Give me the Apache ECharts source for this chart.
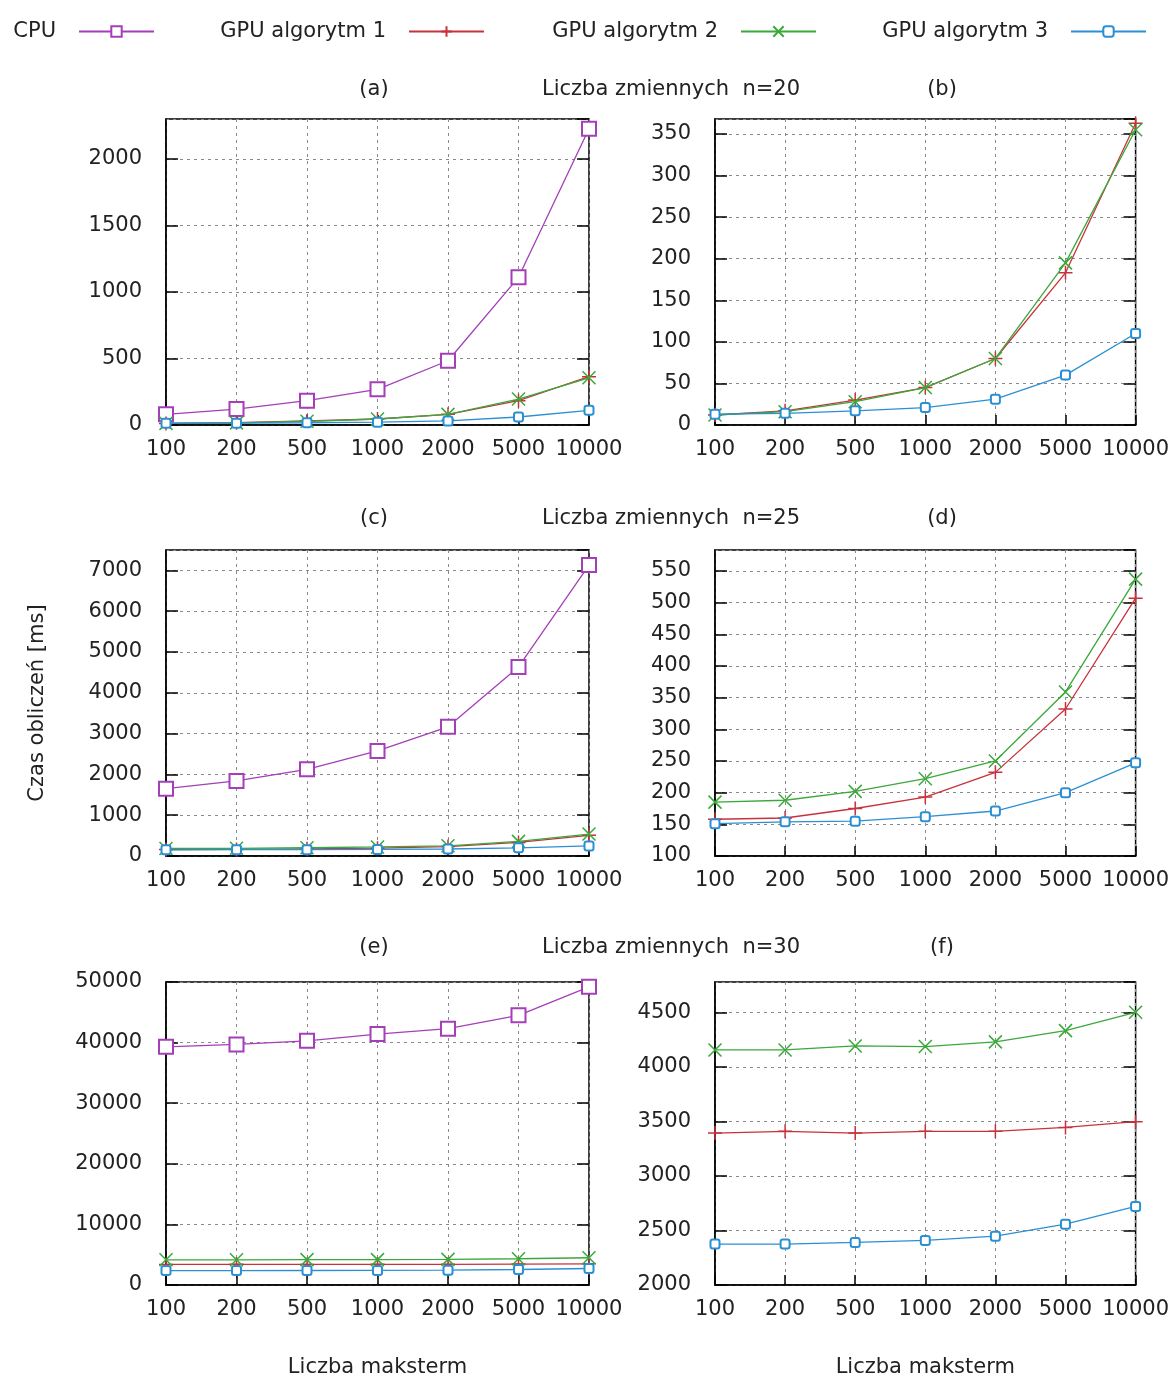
<!DOCTYPE html>
<html>
<head>
<meta charset="utf-8">
<script src="https://cdn.jsdelivr.net/npm/echarts@6/dist/echarts.min.js"></script>
<style>
html,body{margin:0;padding:0;background:#fff;}
#chart{width:1172px;height:1382px;}
</style>
</head>
<body>
<div id="chart"></div>
<script>
// ---- data ----
const categories = ['100', '200', '500', '1000', '2000', '5000', '10000'];
const seriesNames = ['CPU', 'GPU algorytm 1', 'GPU algorytm 2', 'GPU algorytm 3'];

// n = 20
const cpu20  = [80, 120, 183, 268, 483, 1110, 2226];
const gpu1_20 = [12, 17, 30, 45, 80, 183, 363];
const gpu2_20 = [12, 16, 28, 45, 80, 195, 355];
const gpu3_20 = [13, 14, 17, 21, 31, 60, 110];

// n = 25
const cpu25  = [1650, 1840, 2125, 2575, 3165, 4635, 7130];
const gpu1_25 = [158, 160, 175, 193, 232, 332, 507];
const gpu2_25 = [185, 188, 202, 222, 250, 359, 537];
const gpu3_25 = [151, 154, 155, 162, 171, 200, 247];

// n = 30
const cpu30  = [39300, 39700, 40300, 41400, 42300, 44500, 49200];
const gpu1_30 = [3393, 3409, 3393, 3409, 3409, 3445, 3497];
const gpu2_30 = [4155, 4155, 4192, 4186, 4229, 4332, 4500];
const gpu3_30 = [2375, 2375, 2390, 2409, 2448, 2558, 2720];

const panelTitles = ['(a)', '(b)', '(c)', '(d)', '(e)', '(f)'];
const rowTitles = ['Liczba zmiennych  n=20', 'Liczba zmiennych  n=25', 'Liczba zmiennych  n=30'];
const xAxisTitle = 'Liczba maksterm';
const yAxisTitle = 'Czas obliczeń [ms]';

// y-axis ranges per panel [min, max, interval]
const yRanges = [
  [0, 2300, 500], [0, 368, 50],
  [0, 7500, 1000], [100, 583, 50],
  [0, 50000, 10000], [2000, 4778, 500]
];

// which series appear in each panel
const panelData = [
  [cpu20, gpu1_20, gpu2_20, gpu3_20],
  [null, gpu1_20, gpu2_20, gpu3_20],
  [cpu25, gpu1_25, gpu2_25, gpu3_25],
  [null, gpu1_25, gpu2_25, gpu3_25],
  [cpu30, gpu1_30, gpu2_30, gpu3_30],
  [null, gpu1_30, gpu2_30, gpu3_30]
];

// ---- styling ----
const FONT = 'DejaVu Sans';
const FS = 21;
const TXT = '#222';
const colors = ['#a43fb8', '#c8323c', '#3aa83a', '#2b8fd3'];
const symbols = ['emptyRect', 'path://M5,0L5,10M0,5L10,5', 'path://M0,0L10,10M0,10L10,0', 'emptyRoundRect'];
const symSizes = [14, 14, 13, 9];

const gridBoxes = [
  {left: 166, right: 583, top: 119, height: 306},
  {left: 715, right: 34, top: 119, height: 306},
  {left: 166, right: 583, top: 550, height: 306},
  {left: 715, right: 34, top: 550, height: 306},
  {left: 166, right: 583, top: 982, height: 303},
  {left: 715, right: 34, top: 982, height: 303}
];

const grids = gridBoxes.map(g => Object.assign({
  show: true, borderColor: '#000', borderWidth: 1.5, backgroundColor: 'transparent'
}, g));

const xAxes = [];
const yAxes = [];
const series = [];

gridBoxes.forEach((g, i) => {
  const isBottom = i >= 4;
  xAxes.push({
    type: 'category', gridIndex: i, data: categories, boundaryGap: false,
    axisLine: {show: true, lineStyle: {color: '#000', width: 1.5}},
    axisTick: {show: true, inside: true, length: 10, interval: 0, lineStyle: {color: '#000', width: 1.5}},
    axisLabel: {color: TXT, fontFamily: FONT, fontSize: FS, margin: 14, interval: 0, hideOverlap: false},
    splitLine: {show: true, interval: 0, lineStyle: {color: '#8a8a8a', width: 1, type: [3, 4]}},
    name: isBottom ? xAxisTitle : '',
    nameLocation: 'middle', nameGap: 72,
    nameTextStyle: {color: TXT, fontFamily: FONT, fontSize: FS}
  });
  const r = yRanges[i];
  const maxIsTick = (r[1] - r[0]) % r[2] === 0;
  yAxes.push({
    type: 'value', gridIndex: i, min: r[0], max: r[1], interval: r[2],
    axisLine: {show: true, lineStyle: {color: '#000', width: 1.5}},
    axisTick: {show: true, inside: true, length: 12, lineStyle: {color: '#000', width: 1.5}},
    axisLabel: {color: TXT, fontFamily: FONT, fontSize: FS, margin: 24, showMaxLabel: maxIsTick,
      formatter: v => String(v)},
    splitLine: {show: true, lineStyle: {color: '#8a8a8a', width: 1, type: [3, 4]}},
    name: i === 2 ? yAxisTitle : '',
    nameLocation: 'middle', nameGap: 118, nameRotate: 90,
    nameTextStyle: {color: TXT, fontFamily: FONT, fontSize: FS}
  });
  // mirror ticks on right side
  yAxes.push({
    type: 'value', gridIndex: i, position: 'right', min: r[0], max: r[1], interval: r[2],
    axisLine: {show: false},
    axisTick: {show: true, inside: true, length: 12, lineStyle: {color: '#000', width: 1.5}},
    axisLabel: {show: false},
    splitLine: {show: false}
  });
  panelData[i].forEach((d, k) => {
    if (!d) return;
    series.push({
      name: seriesNames[k], type: 'line', xAxisIndex: i, yAxisIndex: i * 2,
      data: d, symbol: symbols[k], symbolSize: symSizes[k], showSymbol: true,
      lineStyle: {color: colors[k], width: 1.3},
      itemStyle: {color: colors[k], borderColor: colors[k], borderWidth: 1.5},
      color: colors[k],
      z: 3 + k
    });
  });
});

const titles = [];
const rowY = [74, 503, 932];
rowY.forEach((y, r) => {
  titles.push({text: panelTitles[r * 2], left: 369, top: y, textAlign: 'center',
    textStyle: {color: TXT, fontFamily: FONT, fontSize: FS, fontWeight: 'normal'}});
  titles.push({text: rowTitles[r], left: 666, top: y, textAlign: 'center',
    textStyle: {color: TXT, fontFamily: FONT, fontSize: FS, fontWeight: 'normal'}});
  titles.push({text: panelTitles[r * 2 + 1], left: 937, top: y, textAlign: 'center',
    textStyle: {color: TXT, fontFamily: FONT, fontSize: FS, fontWeight: 'normal'}});
});

const legendRights = [1012, 682, 350, 20];
const legends = seriesNames.map((nm, k) => ({
  data: [nm], right: legendRights[k], top: 16, align: 'right',
  itemWidth: 75, itemHeight: 13, selectedMode: false,
  textStyle: {color: TXT, fontFamily: FONT, fontSize: FS, padding: [0, 18, 0, 0]}
}));

const chart = echarts.init(document.getElementById('chart'), null, {renderer: 'canvas'});
chart.setOption({
  backgroundColor: '#fff',
  animation: false,
  title: titles,
  legend: legends,
  grid: grids,
  xAxis: xAxes,
  yAxis: yAxes,
  series: series
});
</script>
</body>
</html>
